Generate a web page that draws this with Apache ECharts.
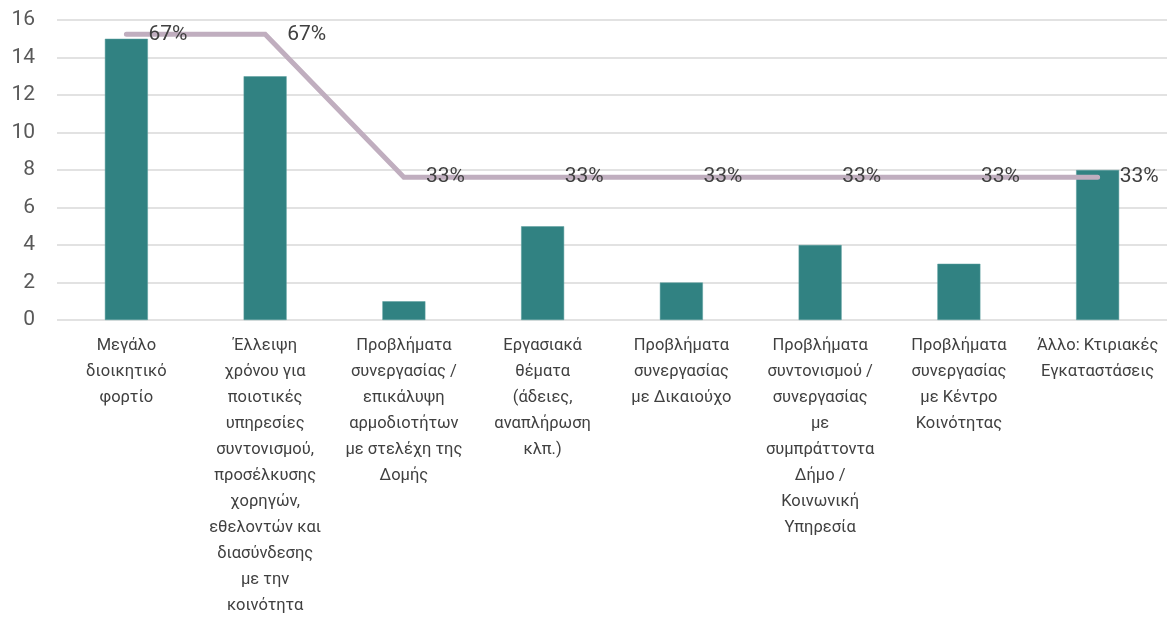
<!DOCTYPE html>
<html>
<head>
<meta charset="utf-8">
<script src="https://cdn.jsdelivr.net/npm/echarts@6/dist/echarts.min.js"></script>
<style>
  html, body { margin: 0; padding: 0; background: #fff; }
  #chart { width: 1168px; height: 617px; }
</style>
</head>
<body>
<div id="chart"></div>
<script>
// categories (line breaks as in the original chart)
const categories = [
  "Μεγάλο\nδιοικητικό\nφορτίο",
  "Έλλειψη\nχρόνου για\nποιοτικές\nυπηρεσίες\nσυντονισμού,\nπροσέλκυσης\nχορηγών,\nεθελοντών και\nδιασύνδεσης\nμε την\nκοινότητα",
  "Προβλήματα\nσυνεργασίας /\nεπικάλυψη\nαρμοδιοτήτων\nμε στελέχη της\nΔομής",
  "Εργασιακά\nθέματα\n(άδειες,\nαναπλήρωση\nκλπ.)",
  "Προβλήματα\nσυνεργασίας\nμε Δικαιούχο",
  "Προβλήματα\nσυντονισμού /\nσυνεργασίας\nμε\nσυμπράττοντα\nΔήμο /\nΚοινωνική\nΥπηρεσία",
  "Προβλήματα\nσυνεργασίας\nμε Κέντρο\nΚοινότητας",
  "Άλλο: Κτιριακές\nΕγκαταστάσεις"
];
const counts = [15, 13, 1, 5, 2, 4, 3, 8];
const shares = [2 / 3, 2 / 3, 1 / 3, 1 / 3, 1 / 3, 1 / 3, 1 / 3, 1 / 3];
const yTicks = [0, 2, 4, 6, 8, 10, 12, 14, 16];

const font = "Roboto, 'Noto Sans', sans-serif";

let myChart = echarts.init(document.getElementById("chart"), null, { renderer: "canvas" });

let option = {
  animation: false,
  grid: {
    left: 57, right: 1, top: 20, bottom: 297,
    containLabel: false,
    outerBoundsMode: "none"
  },
  xAxis: {
    type: "category",
    data: categories,
    axisLine: { show: false },
    axisTick: { show: false },
    axisLabel: {
      interval: 0,
      margin: 13,
      color: "#404040",
      fontFamily: font,
      fontSize: 16.5,
      lineHeight: 26,
      align: "center"
    }
  },
  yAxis: [
    {
      type: "value",
      min: yTicks[0],
      max: yTicks[yTicks.length - 1],
      interval: 2,
      axisLine: { show: false },
      axisTick: { show: false },
      axisLabel: { color: "#595959", fontFamily: font, fontSize: 21, margin: 22 },
      splitLine: { lineStyle: { color: "#D9D9D9", width: 1.5 } }
    },
    {
      type: "value",
      min: 0,
      max: 0.7,
      show: false,
      splitLine: { show: false }
    }
  ],
  series: [
    {
      name: "count",
      type: "bar",
      data: counts,
      barWidth: 43,
      itemStyle: { color: "#318282", borderColor: "#5A9E9E", borderWidth: 0.5 }
    },
    {
      name: "share",
      type: "line",
      yAxisIndex: 1,
      data: shares,
      symbol: "circle",
      symbolSize: 2,
      showSymbol: true,
      itemStyle: { color: "rgba(0,0,0,0)" },
      lineStyle: { color: "#C0AEBF", width: 5, cap: "round", join: "miter" },
      label: {
        show: true,
        position: "right",
        distance: 21,
        color: "#404040",
        fontFamily: font,
        fontSize: 21,
        formatter: (p) => Math.round(p.value * 100) + "%"
      },
      z: 3
    }
  ]
};

myChart.setOption(option);
</script>
</body>
</html>
